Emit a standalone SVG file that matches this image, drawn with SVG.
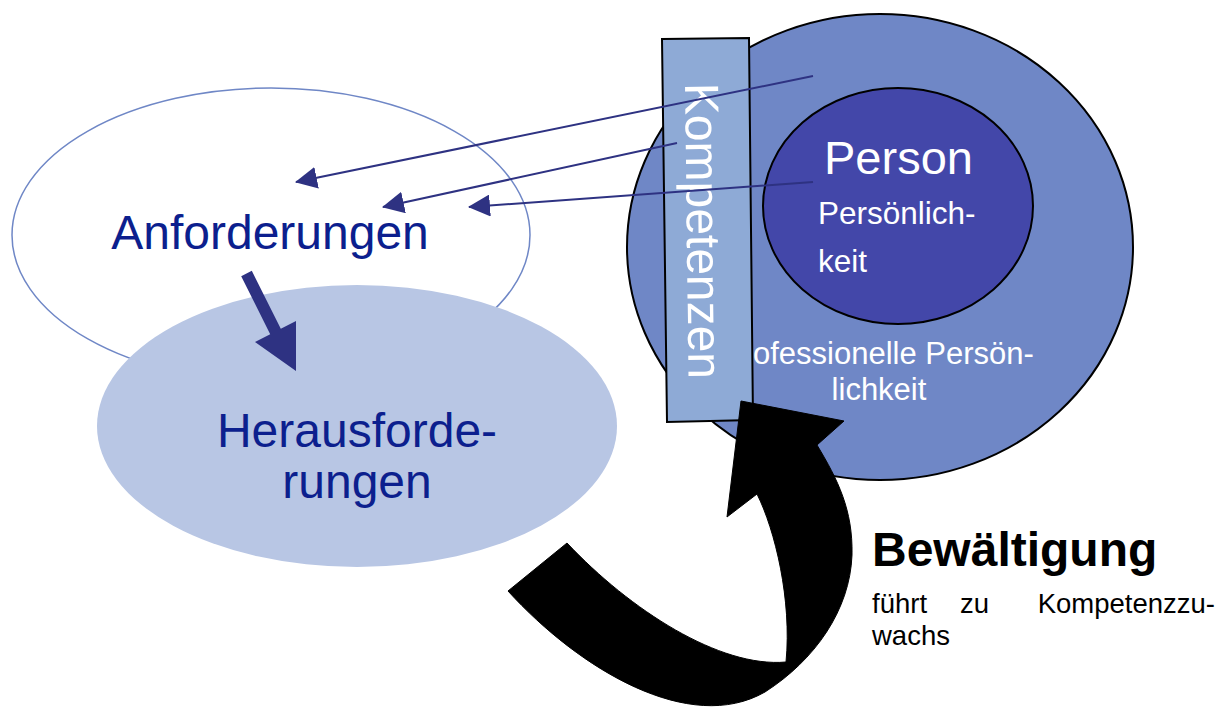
<svg xmlns="http://www.w3.org/2000/svg" width="1226" height="711" viewBox="0 0 1226 711">
<style>
text{font-family:"Liberation Sans",Arial,sans-serif}
.blue{fill:#0c1f8e;font-size:48px}
.white{fill:#ffffff}
.small{font-size:27.5px;fill:#000}
.thin{stroke:#2e3282;stroke-width:2;fill:none}
</style>
<defs>
<marker id="ah" viewBox="0 0 22 22" refX="21" refY="11" markerWidth="22" markerHeight="22" markerUnits="userSpaceOnUse" orient="auto">
<path d="M0,0 L22,11 L0,22 z" fill="#2e3282"/>
</marker>
</defs>
<rect width="1226" height="711" fill="#ffffff"/>

<g id="anforderungen">
<ellipse cx="271" cy="235" rx="259" ry="147" fill="#ffffff" stroke="#6f87c6" stroke-width="1.5"/>
<text class="blue" x="270" y="249" text-anchor="middle">Anforderungen</text>
</g>

<g id="herausforderungen">
<ellipse cx="357" cy="426" rx="260" ry="141" fill="#b8c6e4"/>
<text class="blue" x="357" y="447" text-anchor="middle">Herausforde-</text>
<text class="blue" x="357" y="498" text-anchor="middle">rungen</text>
</g>

<g id="person-outer">
<ellipse cx="880" cy="247" rx="253" ry="233" fill="#6f87c6" stroke="#000" stroke-width="2"/>
<text class="white" x="753" y="364" font-size="31">ofessionelle Persön-</text>
<text class="white" x="879" y="400" font-size="31" text-anchor="middle">lichkeit</text>
</g>

<g id="person">
<ellipse cx="898" cy="206" rx="135" ry="118" fill="#4347a9" stroke="#000" stroke-width="2"/>
<text class="white" x="824" y="174" font-size="47">Person</text>
<text class="white" x="818" y="224" font-size="31.5">Persönlich-</text>
<text class="white" x="818" y="272" font-size="31.5">keit</text>
</g>

<g id="kompetenzen">
<polygon points="662,39 749,38 753,420 667,422" fill="#8eaad6" stroke="#000" stroke-width="2"/>
<text class="white" font-size="48" transform="translate(685,83) rotate(89.3)">Kompetenzen</text>
</g>

<g id="bewaeltigung">
<text x="872" y="566" font-size="48" font-weight="bold" fill="#000">Bewältigung</text>
<text class="small" x="872" y="613">führt</text>
<text class="small" x="960" y="613">zu</text>
<text class="small" x="1215" y="613" text-anchor="end">Kompetenzzu-</text>
<text class="small" x="872" y="645">wachs</text>
</g>

<g id="connectors">
<line class="thin" x1="813" y1="76" x2="296" y2="182" marker-end="url(#ah)"/>
<line class="thin" x1="677" y1="143" x2="383" y2="207" marker-end="url(#ah)"/>
<line class="thin" x1="813" y1="182" x2="469" y2="207" marker-end="url(#ah)"/>
<polygon points="251.8,270.8 280.8,328.8 296,321 296,371 255,342 270.2,334.2 241.2,276.2" fill="#2e3282"/>
<path d="M567,543 L508,591 C580,670 690,735 765,692 C815,660 850,610 852,555 C853,510 838,480 817,445 L844,421 L741,401 L727,517 L757,494 C775,530 792,600 786,662 C720,668 630,610 567,543 Z" fill="#000" stroke="#000" stroke-width="1"/>
</g>
</svg>
